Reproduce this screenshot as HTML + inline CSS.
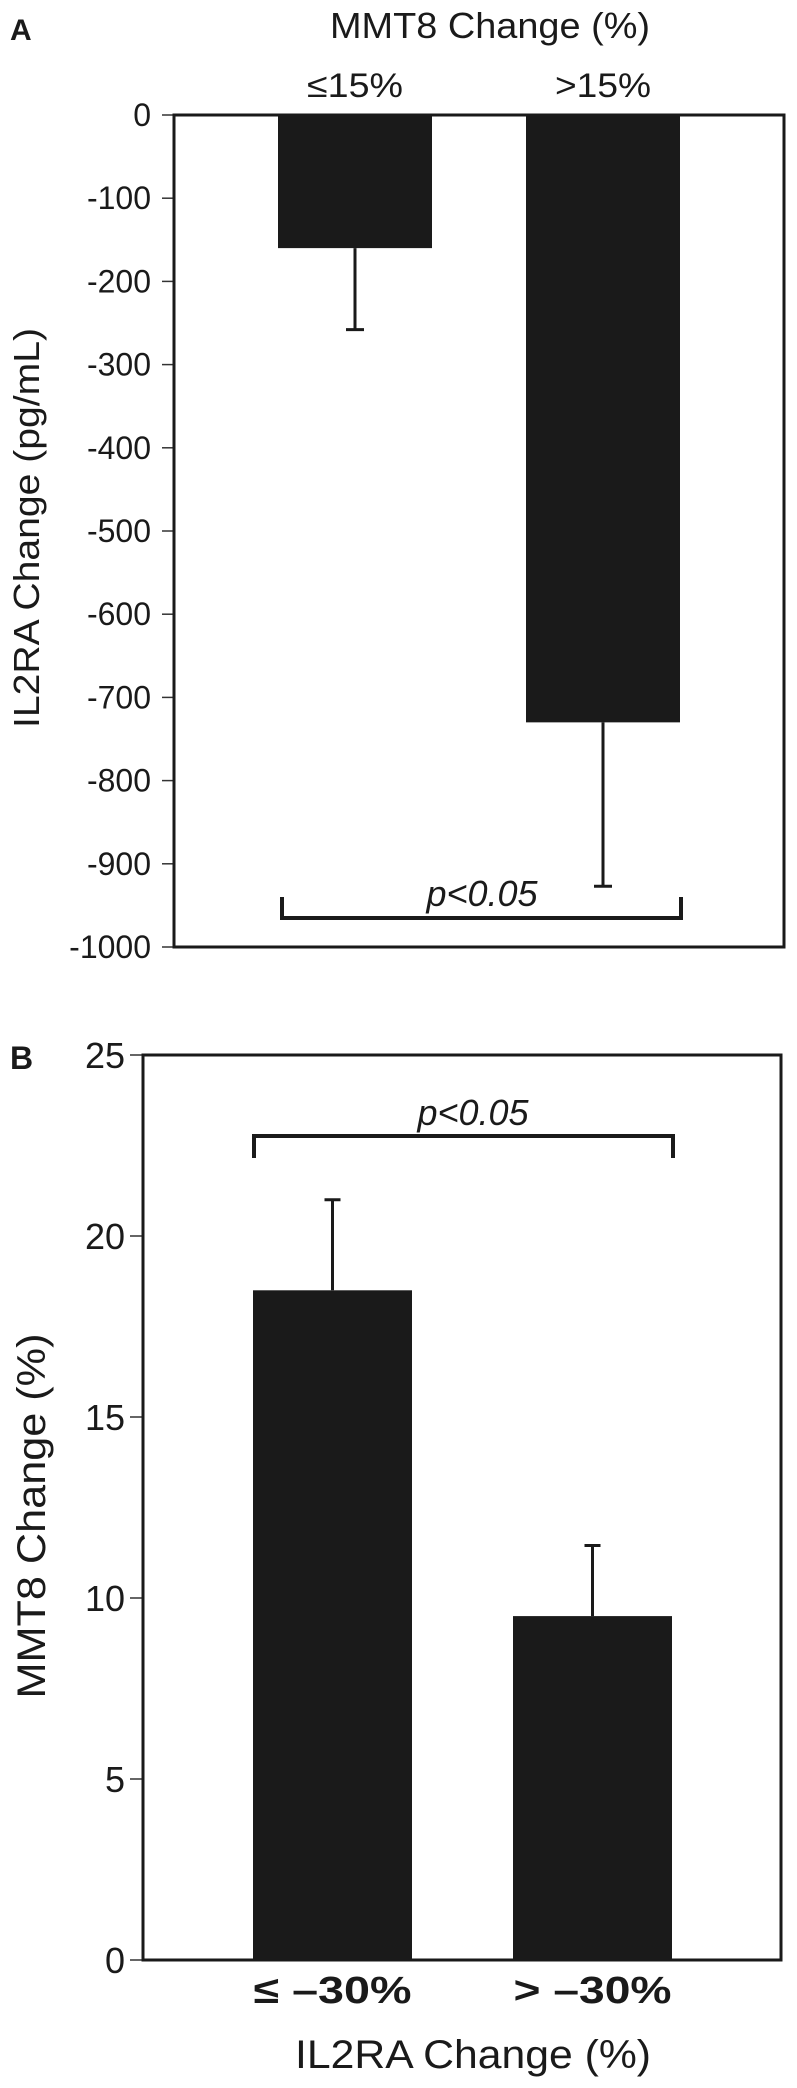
<!DOCTYPE html>
<html><head><meta charset="utf-8"><style>
html,body{margin:0;padding:0;background:#fff;}
svg{display:block;}
text{font-family:"Liberation Sans",sans-serif;fill:#1a1a1a;}
</style></head><body>
<svg id="chart" width="797" height="2088" viewBox="0 0 797 2088">
<g id="panelA"></g>
<g id="panelB"></g>
</svg>
<script>
// Panel A data
const aCategories = ["≤15%", ">15%"];
const aValues = [-160, -730];
const aErrors = [-258, -927];
const aTicks = [0, -100, -200, -300, -400, -500, -600, -700, -800, -900, -1000];
// Panel B data
const bCategories = ["≤ –30%", "> –30%"];
const bValues = [18.5, 9.5];
const bErrors = [21.0, 11.45];
const bTicks = [0, 5, 10, 15, 20, 25];

const NS = "http://www.w3.org/2000/svg";
function mk(parent, tag, attrs, txt) {
  const e = document.createElementNS(NS, tag);
  for (const k in attrs) e.setAttribute(k, attrs[k]);
  if (txt !== undefined) e.textContent = txt;
  parent.appendChild(e);
  return e;
}

// ---------- Panel A ----------
const A = document.getElementById("panelA");
const aL = 174, aR = 784, aT = 115, aB = 947;
const ayS = v => aT + (0 - v) / 1000 * (aB - aT);
const aBarX = [278, 526], aBarW = 154;

let t = mk(A, "text", {x: 10, y: 40, "font-size": 30, "font-weight": "bold"}, "A");


t = mk(A, "text", {x: 330, y: 38, "font-size": 36, textLength: 320, lengthAdjust: "spacingAndGlyphs"}, "MMT8 Change (%)");


t = mk(A, "text", {x: 27, y: 528, "font-size": 36, "text-anchor": "middle", transform: "rotate(-90 27 528)", dy: 12, textLength: 400, lengthAdjust: "spacingAndGlyphs"}, "IL2RA Change (pg/mL)");



aTicks.forEach(v => {
  const y = ayS(v);
  let l = mk(A, "line", {x1: 162, x2: aL, y1: y, y2: y, stroke: "#333", "stroke-width": 1.5});
  
  
  let tx = mk(A, "text", {x: 151, y: y + 11, "font-size": 32, "text-anchor": "end"}, String(v));
  
  
});
aCategories.forEach((c, i) => {
  const cx = aBarX[i] + aBarW / 2;
  let tx = mk(A, "text", {x: cx, y: 97, "font-size": 34, "text-anchor": "middle", textLength: 96, lengthAdjust: "spacingAndGlyphs"}, c);
  
  
  const y0 = ayS(0), y1 = ayS(aValues[i]);
  let r = mk(A, "rect", {x: aBarX[i], y: y0, width: aBarW, height: y1 - y0, fill: "#1a1a1a"});
  
  
  const ye = ayS(aErrors[i]);
  let e = mk(A, "path", {d: `M${cx},${y1} V${ye} M${cx - 9},${ye} H${cx + 9}`, stroke: "#1a1a1a", "stroke-width": 3, fill: "none"});
  
  
});
let ax = mk(A, "rect", {x: aL, y: aT, width: aR - aL, height: aB - aT, fill: "none", stroke: "#1a1a1a", "stroke-width": 3});


let br = mk(A, "path", {d: "M282,897 V918 H681 V897", stroke: "#1a1a1a", "stroke-width": 4, fill: "none"});


t = mk(A, "text", {x: 482, y: 906, "font-size": 36, "font-style": "italic", "text-anchor": "middle"}, "p<0.05");



// ---------- Panel B ----------
const B = document.getElementById("panelB");
const bL = 143, bR = 781, bT = 1055, bB = 1960;
const byS = v => bB - v / 25 * (bB - bT);
const bBarX = [253, 513], bBarW = 159;

t = mk(B, "text", {x: 10, y: 1069, "font-size": 32, "font-weight": "bold"}, "B");


t = mk(B, "text", {x: 31, y: 1516, "font-size": 40, "text-anchor": "middle", transform: "rotate(-90 31 1516)", dy: 14, textLength: 365, lengthAdjust: "spacingAndGlyphs"}, "MMT8 Change (%)");


t = mk(B, "text", {x: 473, y: 2068, "font-size": 40, "text-anchor": "middle", textLength: 356, lengthAdjust: "spacingAndGlyphs"}, "IL2RA Change (%)");



bTicks.forEach(v => {
  const y = byS(v);
  let l = mk(B, "line", {x1: 130, x2: bL, y1: y, y2: y, stroke: "#333", "stroke-width": 1.5});
  
  
  let tx = mk(B, "text", {x: 125, y: y + 13, "font-size": 36, "text-anchor": "end"}, String(v));
  
  
});
bCategories.forEach((c, i) => {
  const cx = bBarX[i] + bBarW / 2;
  let tx = mk(B, "text", {x: cx, y: 2003, "font-size": 38, "font-weight": "bold", "text-anchor": "middle", textLength: 158, lengthAdjust: "spacingAndGlyphs"}, c);
  
  
  const y0 = byS(0), y1 = byS(bValues[i]);
  let r = mk(B, "rect", {x: bBarX[i], y: y1, width: bBarW, height: y0 - y1, fill: "#1a1a1a"});
  
  
  const ye = byS(bErrors[i]);
  let e = mk(B, "path", {d: `M${cx},${y1} V${ye} M${cx - 8},${ye} H${cx + 8}`, stroke: "#1a1a1a", "stroke-width": 3, fill: "none"});
  
  
});
let bx = mk(B, "rect", {x: bL, y: bT, width: bR - bL, height: bB - bT, fill: "none", stroke: "#1a1a1a", "stroke-width": 3});


br = mk(B, "path", {d: "M254,1158 V1136 H673 V1158", stroke: "#1a1a1a", "stroke-width": 4, fill: "none"});


t = mk(B, "text", {x: 473, y: 1125, "font-size": 36, "font-style": "italic", "text-anchor": "middle"}, "p<0.05");


</script>
</body></html>
